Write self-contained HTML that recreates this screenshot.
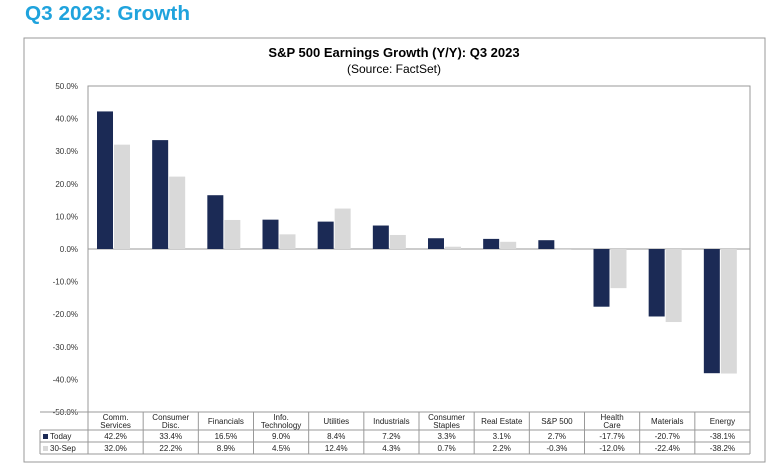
<!DOCTYPE html>
<html><head><meta charset="utf-8"><style>
body{margin:0;background:#fff;width:780px;height:471px;overflow:hidden;font-family:"Liberation Sans",sans-serif}
</style></head><body>
<svg width="780" height="471" xmlns="http://www.w3.org/2000/svg" font-family="Liberation Sans, sans-serif">
<text x="25" y="20" font-size="20" font-weight="bold" fill="#1fa3dd" textLength="165" lengthAdjust="spacingAndGlyphs">Q3 2023: Growth</text>
<rect x="24" y="38" width="741" height="424" fill="#fff" stroke="#999"/>
<text x="394" y="57" font-size="13" font-weight="bold" text-anchor="middle">S&amp;P 500 Earnings Growth (Y/Y): Q3 2023</text>
<text x="394" y="73" font-size="12" text-anchor="middle">(Source: FactSet)</text>
<rect x="88" y="86" width="662" height="326" fill="none" stroke="#999"/>
<g id="yaxis"></g><g id="bars"></g><g id="table"></g>
</svg>
<script>
const categories=[["Comm.","Services"],["Consumer","Disc."],["Financials"],["Info.","Technology"],["Utilities"],["Industrials"],["Consumer","Staples"],["Real Estate"],["S&P 500"],["Health","Care"],["Materials"],["Energy"]];
const todayValues=[42.2,33.4,16.5,9.0,8.4,7.2,3.3,3.1,2.7,-17.7,-20.7,-38.1];
const sepValues=[32.0,22.2,8.9,4.5,12.4,4.3,0.7,2.2,-0.3,-12.0,-22.4,-38.2];
const yTicks=[50,40,30,20,10,0,-10,-20,-30,-40,-50];
const NS="http://www.w3.org/2000/svg";
const x0=88,x1=750,yTop=86,yBot=412;
const y=v=>yTop+(50-v)/100*(yBot-yTop);
const cw=(x1-x0)/categories.length;
function mk(t,a,p,txt){const e=document.createElementNS(NS,t);for(const k in a)e.setAttribute(k,a[k]);if(txt!==undefined)e.textContent=txt;p.appendChild(e);return e;}
const ya=document.getElementById('yaxis');
yTicks.forEach(v=>{const t=mk('text',{x:78,y:y(v)+3,'font-size':8,'text-anchor':'end',fill:'#333'},ya,v.toFixed(1)+'%');

});
const bl=mk('line',{x1:x0,x2:x1,y1:y(0),y2:y(0),stroke:'#999'},ya);


const bg=document.getElementById('bars');
categories.forEach((c,i)=>{const cx=x0+cw*i;
[[todayValues[i],'#1b2a55',9],[sepValues[i],'#d9d9d9',26]].forEach(([v,col,off],j)=>{
const r=mk('rect',{x:cx+off,y:Math.min(y(v),y(0)),width:16,height:Math.abs(y(v)-y(0)),fill:col},bg);

});});
const tb=document.getElementById('table');
const rows=[412,430,442,454];
rows.forEach(ry=>mk('line',{x1:40,x2:x1,y1:ry,y2:ry,stroke:'#999'},tb));
mk('line',{x1:40,x2:40,y1:430,y2:454,stroke:'#999'},tb);
for(let i=0;i<=categories.length;i++)mk('line',{x1:x0+cw*i,x2:x0+cw*i,y1:412,y2:454,stroke:'#999'},tb);
categories.forEach((c,i)=>{const cx=x0+cw*(i+0.5);
c.forEach((l,k)=>{const t=mk('text',{x:cx,y:(c.length==1?424:420)+k*8,'font-size':8,'text-anchor':'middle',fill:'#222'},tb,l);

});
const a=mk('text',{x:cx,y:439,'font-size':8,'text-anchor':'middle',fill:'#222'},tb,todayValues[i].toFixed(1)+'%');


const b=mk('text',{x:cx,y:451,'font-size':8,'text-anchor':'middle',fill:'#222'},tb,sepValues[i].toFixed(1)+'%');

});
mk('rect',{x:43,y:434,width:5,height:5,fill:'#1b2a55'},tb);
const l1=mk('text',{x:50,y:439,'font-size':8,fill:'#222'},tb,'Today');


mk('rect',{x:43,y:446,width:5,height:5,fill:'#d9d9d9'},tb);
const l2=mk('text',{x:50,y:451,'font-size':8,fill:'#222'},tb,'30-Sep');


</script>
</body></html>
